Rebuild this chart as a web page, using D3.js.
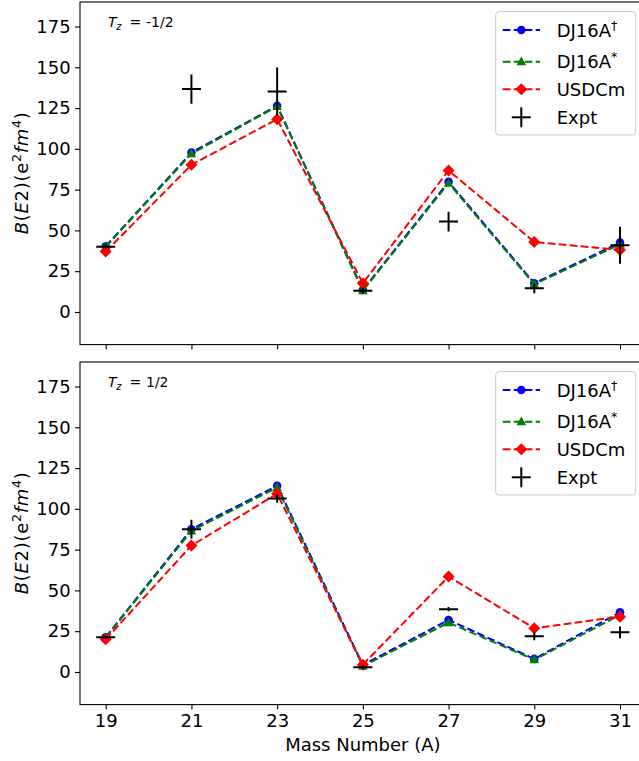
<html>
<head>
<script src="https://d3js.org/d3.v7.min.js"></script>
<style>
  body { margin: 0; background: #fff; }
  svg { font-family: "DejaVu Sans", sans-serif; display: block; }
  .axis { font-family: "DejaVu Sans", sans-serif; }
  .axis .domain { display: none; }
  .axis text { font-size: 18px; fill: #000; }
  .axis line { stroke: #000; stroke-width: 1.1; }
</style>
</head>
<body>
<div id="chart"></div>
<script>
// mass numbers and y ticks
var massNumbers = [19, 21, 23, 25, 27, 29, 31];
var yTicks = [0, 25, 50, 75, 100, 125, 150, 175];

// Tz = -1/2
var dj16aDaggerNeg = [40.3, 97.7, 126.4, 13.5, 79.8, 17.6, 42.5];
var dj16aStarNeg = [40, 97, 126, 13, 79, 17, 41.5];
var usdcmNeg = [37, 90.2, 118.2, 17.6, 86.7, 42.9, 38];
var exptNeg = [40, 136.6, 135.2, 13, 55.4, 14.5, 40.9];
var exptErrNeg = [1.5, 9, 14.7, 1.5, 6, 3, 11.3];

// Tz = 1/2
var dj16aDaggerPos = [21.3, 87.5, 114.1, 4.3, 31.9, 8, 36.6];
var dj16aStarPos = [21, 86.5, 113, 3.5, 30.3, 7.5, 35];
var usdcmPos = [20, 77.5, 109.2, 4.5, 58.5, 26.8, 33.9];
var exptPos = [21.3, 87.5, 106.3, 2.9, 38.5, 21.9, 24.3];
var exptErrPos = [1, 5.8, 2.5, 1, 1.3, 2.5, 3.6];

var width = 639, height = 761;
var left = 80, right = 645.7;
var dash = "7.7,3.3";
var fs = 18, fsSup = 12.6;

var svg = d3.select("#chart").append("svg")
  .attr("width", width)
  .attr("height", height);

var x = d3.scaleLinear().domain([18.4, 31.6]).range([left, right]);

var panels = [
  {top: 2, bottom: 344.6, label: "-1/2", showX: false,
   series: [dj16aDaggerNeg, dj16aStarNeg, usdcmNeg], expt: exptNeg, err: exptErrNeg},
  {top: 362, bottom: 704.6, label: "1/2", showX: true,
   series: [dj16aDaggerPos, dj16aStarPos, usdcmPos], expt: exptPos, err: exptErrPos}
];

var colors = ["#0000ff", "#008000", "#ff0000"];

function marker(g, i, cx, cy) {
  if (i == 2) {
    // matplotlib 'D' is a square rotated 45deg
    g.append("path")
      .attr("d", "M0,-6L6,0L0,6L-6,0Z")
      .attr("transform", "translate(" + cx + "," + cy + ")")
      .attr("fill", colors[i]);
  } else if (i == 1) {
    g.append("path")
      .attr("d", "M0,-5.2L4.8,3.6L-4.8,3.6Z")
      .attr("transform", "translate(" + cx + "," + cy + ")")
      .attr("fill", colors[i]);
  } else {
    g.append("circle").attr("cx", cx).attr("cy", cy).attr("r", 4.3)
      .attr("fill", colors[i]);
  }
}

panels.forEach(function(p, pi) {
  var y = d3.scaleLinear().domain([-20, 190]).range([p.bottom, p.top]);

  var clipId = "clip" + pi;
  svg.append("clipPath").attr("id", clipId)
    .append("rect")
    .attr("x", left).attr("y", p.top)
    .attr("width", right - left).attr("height", p.bottom - p.top);

  // axes
  var yAxis = d3.axisLeft(y).tickValues(yTicks).tickSize(5).tickPadding(4.3);
  svg.append("g").attr("class", "axis")
    .attr("transform", "translate(" + left + ",0)")
    .call(yAxis);

  var xAxis = d3.axisBottom(x).tickValues(massNumbers).tickSize(5).tickPadding(5);
  var xg = svg.append("g").attr("class", "axis")
    .attr("transform", "translate(0," + p.bottom + ")")
    .call(xAxis);
  if (!p.showX) xg.selectAll("text").remove();

  var plot = svg.append("g").attr("clip-path", "url(#" + clipId + ")");

  var line = d3.line()
    .x(function(d, i) { return x(massNumbers[i]); })
    .y(function(d) { return y(d); });

  p.series.forEach(function(s, si) {
    var g = plot.append("g");
    g.append("path")
      .attr("d", line(s))
      .attr("fill", "none")
      .attr("stroke", colors[si])
      .attr("stroke-width", 2)
      .attr("stroke-dasharray", dash);
    s.forEach(function(v, i) {
      marker(g, si, x(massNumbers[i]), y(v));
    });
  });

  // experiment: errorbars with '_' marker
  var eg = plot.append("g");
  p.expt.forEach(function(v, i) {
    var cx = x(massNumbers[i]);
    eg.append("line")
      .attr("x1", cx).attr("x2", cx)
      .attr("y1", y(v - p.err[i])).attr("y2", y(v + p.err[i]))
      .attr("stroke", "#000").attr("stroke-width", 2);
    eg.append("line")
      .attr("x1", cx - 9.5).attr("x2", cx + 9.5)
      .attr("y1", y(v)).attr("y2", y(v))
      .attr("stroke", "#000").attr("stroke-width", 2);
  });

  // frame
  svg.append("rect")
    .attr("x", left).attr("y", p.top)
    .attr("width", right - left).attr("height", p.bottom - p.top)
    .attr("fill", "none").attr("stroke", "#000").attr("stroke-width", 1.1);

  // Tz label
  var tz = svg.append("text")
    .attr("y", p.top + 25.3)
    .style("font-size", "14px");
  tz.append("tspan").attr("x", 108).style("font-style", "italic").text("T");
  tz.append("tspan").attr("x", 116.2).style("font-style", "italic").style("font-size", "9.8px")
    .attr("dy", 2.5).text("z");
  tz.append("tspan").attr("x", 129.5).attr("dy", -2.5).text("=");
  tz.append("tspan").attr("x", 146).text(p.label);

  // y label
  var cy = (p.top + p.bottom) / 2;
  var yl = svg.append("text")
    .attr("transform", "translate(28," + cy + ") rotate(-90)")
    .attr("text-anchor", "middle")
    .attr("textLength", 122).attr("lengthAdjust", "spacing")
    .style("font-size", fs + "px");
  yl.append("tspan").style("font-style", "italic").text("B");
  yl.append("tspan").text("(");
  yl.append("tspan").style("font-style", "italic").text("E");
  yl.append("tspan").text("2)(e");
  yl.append("tspan").attr("dy", -7).style("font-size", fsSup + "px").text("2");
  yl.append("tspan").attr("dy", 7).style("font-style", "italic").text("fm");
  yl.append("tspan").attr("dy", -7).style("font-size", fsSup + "px").text("4");
  yl.append("tspan").attr("dy", 7).text(")");

  // legend
  var lx = 495.7, ly = p.top + 9.7, lw = 140, lh = 123.3;
  var lg = svg.append("g");
  lg.append("rect")
    .attr("x", lx).attr("y", ly).attr("width", lw).attr("height", lh)
    .attr("rx", 3).attr("ry", 3)
    .attr("fill", "#fff").attr("fill-opacity", 0.8)
    .attr("stroke", "#cccccc").attr("stroke-width", 1);
  var rows = [p.top + 28, p.top + 59.7, p.top + 87.3, p.top + 115.3];
  var names = [["DJ16A", "\u2020"], ["DJ16A", "*"], ["USDCm", ""], ["Expt", ""]];
  rows.forEach(function(ry, ri) {
    if (ri < 3) {
      lg.append("line")
        .attr("x1", 502.7).attr("x2", 540).attr("y1", ry).attr("y2", ry)
        .attr("stroke", colors[ri]).attr("stroke-width", 2)
        .attr("stroke-dasharray", dash);
      marker(lg, ri, 521.3, ry);
    } else {
      lg.append("line")
        .attr("x1", 521.3).attr("x2", 521.3).attr("y1", ry - 10).attr("y2", ry + 10)
        .attr("stroke", "#000").attr("stroke-width", 2);
      lg.append("line")
        .attr("x1", 511.8).attr("x2", 530.8).attr("y1", ry).attr("y2", ry)
        .attr("stroke", "#000").attr("stroke-width", 2);
    }
    var t = lg.append("text")
      .attr("x", 556.7).attr("y", ry + 6.5)
      .style("font-size", fs + "px")
      .text(names[ri][0]);
    if (names[ri][1]) {
      t.append("tspan").attr("dy", -7).style("font-size", fsSup + "px").text(names[ri][1]);
    }
  });
});

// x label
svg.append("text")
  .attr("x", (left + right) / 2).attr("y", 751)
  .attr("text-anchor", "middle")
  .style("font-size", fs + "px")
  .text("Mass Number (A)");
</script>
</body>
</html>
